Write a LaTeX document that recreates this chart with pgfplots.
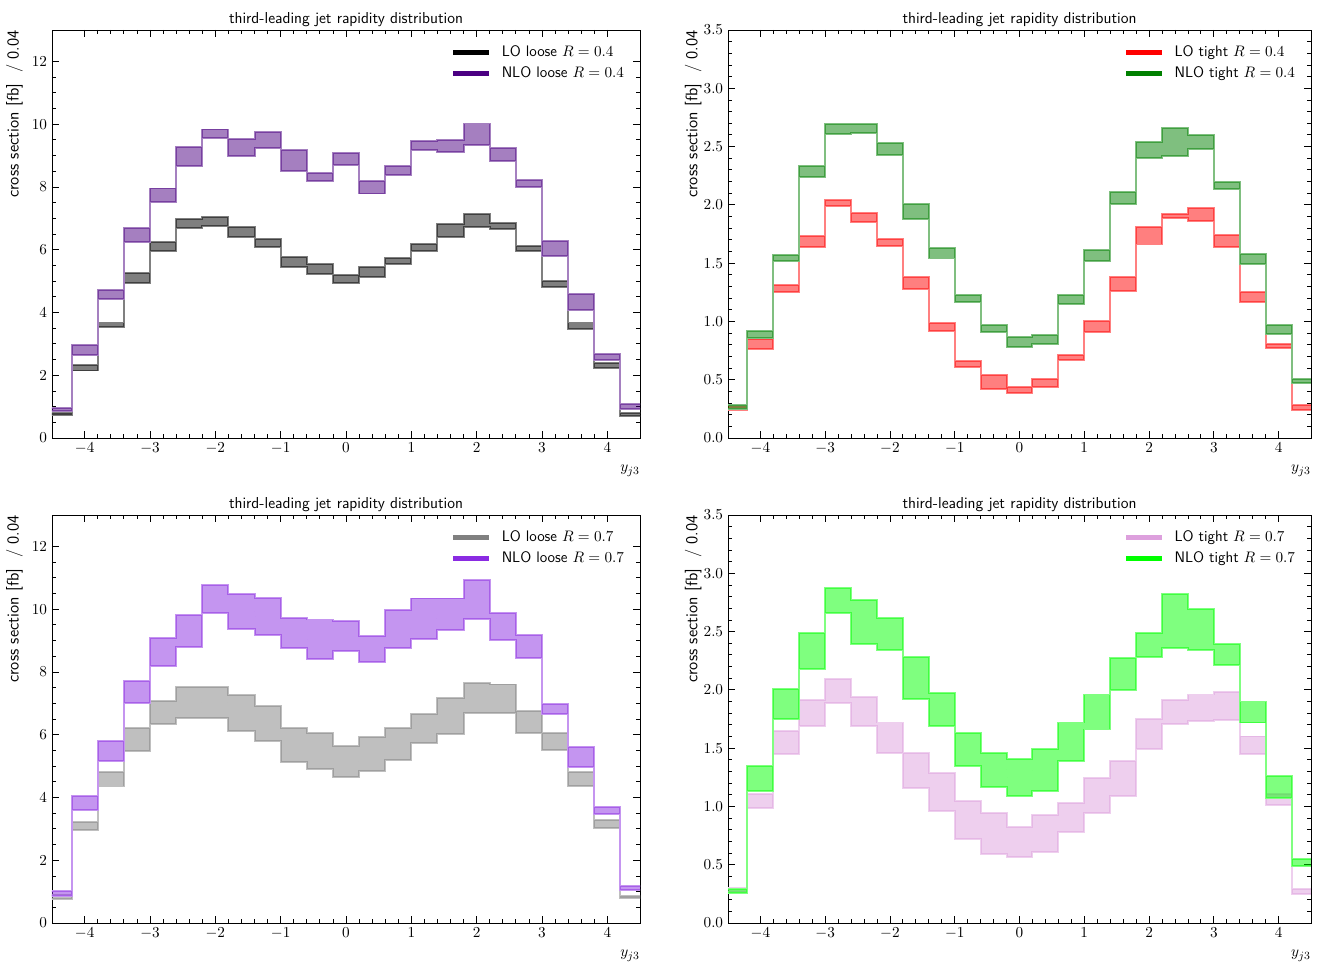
\documentclass[border=0pt]{standalone}
\usepackage{pgfplots}
\usepackage{pgfplotstable}
\pgfplotsset{compat=1.18}

\definecolor{cIndigo}{RGB}{75,0,130}
\definecolor{cRed}{RGB}{255,0,0}
\definecolor{cGreen}{RGB}{0,128,0}
\definecolor{cGray}{RGB}{128,128,128}
\definecolor{cViolet}{RGB}{138,43,226}
\definecolor{cPlum}{RGB}{221,160,221}
\definecolor{cLime}{RGB}{0,255,0}

% x = left bin edge; last row repeats last bin at right edge
\pgfplotstableread{
x lol loh nlol nloh
-4.6 0.72 0.80 0.85 0.97
-4.2 2.15 2.33 2.65 2.97
-3.8 3.53 3.68 4.43 4.72
-3.4 4.93 5.27 6.26 6.68
-3.0 5.97 6.26 7.53 7.95
-2.6 6.68 6.97 8.66 9.26
-2.2 6.75 7.05 9.57 9.83
-1.8 6.39 6.73 8.99 9.52
-1.4 6.10 6.34 9.25 9.76
-1.0 5.44 5.78 8.50 9.17
-0.6 5.22 5.55 8.19 8.43
-0.2 4.93 5.20 8.70 9.09
0.2 5.12 5.44 7.79 8.20
0.6 5.54 5.73 8.38 8.66
1.0 5.97 6.18 9.19 9.47
1.4 6.39 6.82 9.12 9.51
1.8 6.71 7.14 9.33 10.02
2.2 6.65 6.86 8.82 9.23
2.6 5.96 6.12 8.01 8.22
3.0 4.82 5.00 5.81 6.28
3.4 3.48 3.68 4.08 4.59
3.8 2.23 2.39 2.49 2.67
4.2 0.71 0.80 0.93 1.09
4.6 0.71 0.80 0.93 1.09
}\tabTL

\pgfplotstableread{
x lol loh nlol nloh
-4.6 0.24 0.28 0.25 0.28
-4.2 0.76 0.85 0.86 0.92
-3.8 1.25 1.31 1.52 1.57
-3.4 1.64 1.73 2.24 2.33
-3.0 1.99 2.04 2.61 2.69
-2.6 1.85 1.93 2.62 2.69
-2.2 1.65 1.71 2.43 2.53
-1.8 1.28 1.38 1.88 2.01
-1.4 0.92 0.99 1.54 1.63
-1.0 0.61 0.66 1.17 1.23
-0.6 0.42 0.54 0.91 0.97
-0.2 0.39 0.44 0.78 0.87
0.2 0.44 0.51 0.81 0.88
0.6 0.67 0.71 1.15 1.23
1.0 0.91 1.00 1.52 1.61
1.4 1.26 1.38 2.01 2.11
1.8 1.66 1.81 2.40 2.54
2.2 1.89 1.92 2.42 2.66
2.6 1.86 1.97 2.48 2.60
3.0 1.64 1.74 2.14 2.20
3.4 1.17 1.25 1.49 1.58
3.8 0.77 0.81 0.89 0.97
4.2 0.24 0.28 0.47 0.51
4.6 0.24 0.28 0.47 0.51
}\tabTR

\pgfplotstableread{
x lol loh nlol nloh
-4.6 0.76 0.88 0.85 1.03
-4.2 2.95 3.23 3.61 4.06
-3.8 4.35 4.80 5.17 5.80
-3.4 5.48 6.20 7.00 7.72
-3.0 6.33 7.07 8.20 9.09
-2.6 6.54 7.51 8.78 9.81
-2.2 6.52 7.53 9.88 10.76
-1.8 6.12 7.26 9.38 10.47
-1.4 5.81 6.92 9.17 10.37
-1.0 5.14 6.20 8.75 9.72
-0.6 4.91 6.04 8.41 9.67
-0.2 4.64 5.64 8.66 9.63
0.2 4.83 5.94 8.32 9.14
0.6 5.20 6.20 8.77 9.97
1.0 5.75 6.66 9.05 10.34
1.4 6.01 7.18 9.35 10.34
1.8 6.68 7.64 9.70 10.92
2.2 6.68 7.60 9.01 9.89
2.6 6.04 6.77 8.43 9.17
3.0 5.51 6.04 6.65 6.98
3.4 4.38 4.80 4.96 5.60
3.8 3.04 3.29 3.48 3.71
4.2 0.80 0.86 1.04 1.17
4.6 0.80 0.86 1.04 1.17
}\tabBL

\pgfplotstableread{
x lol loh nlol nloh
-4.6 0.27 0.30 0.26 0.29
-4.2 0.99 1.11 1.13 1.35
-3.8 1.45 1.65 1.75 2.01
-3.4 1.69 1.91 2.18 2.49
-3.0 1.89 2.09 2.66 2.87
-2.6 1.69 1.94 2.39 2.77
-2.2 1.46 1.72 2.34 2.62
-1.8 1.16 1.46 1.92 2.28
-1.4 0.96 1.29 1.69 1.97
-1.0 0.72 1.05 1.35 1.63
-0.6 0.59 0.94 1.17 1.46
-0.2 0.57 0.82 1.09 1.41
0.2 0.61 0.93 1.13 1.49
0.6 0.78 1.03 1.39 1.72
1.0 0.94 1.24 1.66 1.96
1.4 1.09 1.39 2.00 2.27
1.8 1.49 1.75 2.28 2.49
2.2 1.71 1.91 2.36 2.82
2.6 1.73 1.96 2.34 2.69
3.0 1.74 1.98 2.21 2.39
3.4 1.45 1.60 1.72 1.90
3.8 1.01 1.11 1.07 1.26
4.2 0.25 0.29 0.49 0.55
4.6 0.25 0.29 0.49 0.55
}\tabBR

% band: table, low col, high col, colour, bin width in pt
\newcommand{\band}[5]{%
  \addplot[const plot mark left, draw=#4!50, line width=1.4pt, forget plot] table[x=x,y=#2]{#1};
  \addplot[const plot mark left, draw=#4!50, line width=1.4pt, forget plot] table[x=x,y=#3]{#1};
  \addplot[draw=none, mark=none, forget plot,
    error bars/.cd, y dir=both, y explicit, error mark=none,
    error bar style={draw=#4, draw opacity=0.5, line width=#5, line cap=butt}]
    table[x expr=\thisrow{x}+0.2, y expr=0.5*(\thisrow{#2}+\thisrow{#3}),
          y error expr=0.5*(\thisrow{#3}-\thisrow{#2})]{#1};
}

\pgfplotsset{myax/.style={
  scale only axis, height=293.76pt,
  xmin=-4.5, xmax=4.5, xtick={-4,-3,...,4}, minor x tick num=4,
  ymin=0,
  tick align=inside, tick pos=both, xticklabel pos=lower, yticklabel pos=left,
  major tick length=5pt, minor tick length=2.8pt,
  every tick/.style={black, line width=0.6pt},
  axis line style={line width=0.7pt},
  title={\sffamily third-leading jet rapidity distribution},
  title style={font=\fontsize{11.4}{13}\selectfont, yshift=-7pt},
  xlabel={$y_{j3}$},
  xlabel style={at={(axis description cs:1,0)}, anchor=north east, yshift=-19.5pt, inner sep=0pt, font=\fontsize{11}{13}\selectfont},
  ylabel={\sffamily cross section [fb]\ \ / 0.04},
  ylabel style={anchor=south east, inner sep=0pt, font=\fontsize{12}{14}\selectfont},
  tick label style={font=\fontsize{11}{13}\selectfont},
  legend style={draw=none, fill=none, at={(0.985,0.975)}, anchor=north east,
    font=\fontsize{11}{13}\selectfont\sffamily, row sep=1.5pt},
  legend cell align=left,
  legend image code/.code={\draw[##1, line width=3.5pt] (0pt,0pt) -- (26pt,0pt);
    \draw[draw=none, fill=none, line width=0pt] (26pt,0pt) -- (33pt,0pt);},
}}

\begin{document}
\begin{tikzpicture}
\useasboundingbox (0,0) rectangle (950.4pt,-694.8pt);

% top left
\begin{axis}[myax, at={(37.44pt,-21.6pt)}, anchor=north west, width=423.36pt,
  ymax=13, ytick={0,2,...,12}, minor y tick num=3,
  ylabel style={at={(axis description cs:-0.049,1)}}]
\band{\tabTL}{lol}{loh}{black}{18.816pt}
\band{\tabTL}{nlol}{nloh}{cIndigo}{18.816pt}
\addlegendimage{black}\addlegendentry{LO loose $R=0.4$}
\addlegendimage{cIndigo}\addlegendentry{NLO loose $R=0.4$}
\end{axis}

% top right
\begin{axis}[myax, at={(524.16pt,-21.6pt)}, anchor=north west, width=419.76pt,
  ymax=3.5, ytick={0,0.5,...,3.5}, minor y tick num=4,
  yticklabel style={/pgf/number format/.cd, fixed, fixed zerofill, precision=1},
  ylabel style={at={(axis description cs:-0.045,1)}}]
\band{\tabTR}{lol}{loh}{cRed}{18.656pt}
\band{\tabTR}{nlol}{nloh}{cGreen}{18.656pt}
\addlegendimage{cRed}\addlegendentry{LO tight $R=0.4$}
\addlegendimage{cGreen}\addlegendentry{NLO tight $R=0.4$}
\end{axis}

% bottom left
\begin{axis}[myax, at={(37.44pt,-370.8pt)}, anchor=north west, width=423.36pt,
  ymax=13, ytick={0,2,...,12}, minor y tick num=3,
  ylabel style={at={(axis description cs:-0.049,1)}}]
\band{\tabBL}{lol}{loh}{cGray}{18.816pt}
\band{\tabBL}{nlol}{nloh}{cViolet}{18.816pt}
\addlegendimage{cGray}\addlegendentry{LO loose $R=0.7$}
\addlegendimage{cViolet}\addlegendentry{NLO loose $R=0.7$}
\end{axis}

% bottom right
\begin{axis}[myax, at={(524.16pt,-370.8pt)}, anchor=north west, width=419.76pt,
  ymax=3.5, ytick={0,0.5,...,3.5}, minor y tick num=4,
  yticklabel style={/pgf/number format/.cd, fixed, fixed zerofill, precision=1},
  ylabel style={at={(axis description cs:-0.045,1)}}]
\band{\tabBR}{lol}{loh}{cPlum}{18.656pt}
\band{\tabBR}{nlol}{nloh}{cLime}{18.656pt}
\addlegendimage{cPlum}\addlegendentry{LO tight $R=0.7$}
\addlegendimage{cLime}\addlegendentry{NLO tight $R=0.7$}
\end{axis}
\end{tikzpicture}
\end{document}
